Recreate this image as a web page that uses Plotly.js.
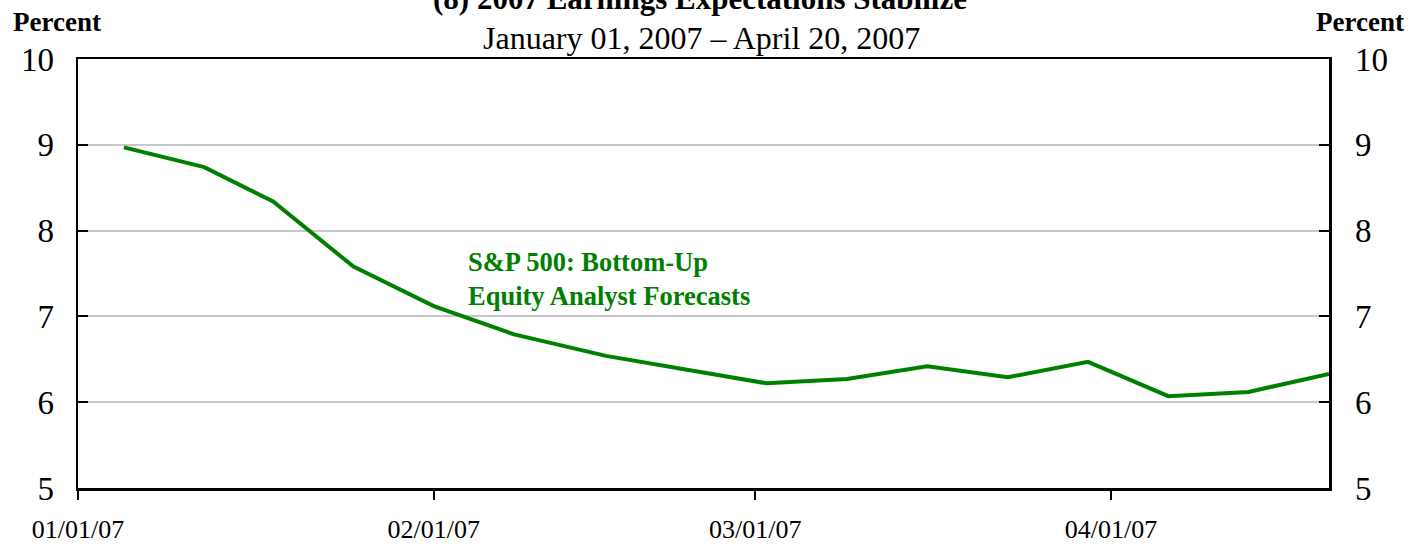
<!DOCTYPE html>
<html>
<head>
<meta charset="utf-8">
<script src="https://cdn.plot.ly/plotly-3.0.1.min.js"></script>
<style>html,body{margin:0;padding:0;background:#fff;}#chart{width:1426px;height:546px;}</style>
</head>
<body>
<div id="chart"></div>
<script>
// Data
const dates = ['2007-01-05','2007-01-12','2007-01-18','2007-01-25','2007-02-01','2007-02-08','2007-02-16',
               '2007-03-02','2007-03-09','2007-03-16','2007-03-23','2007-03-30','2007-04-06','2007-04-13','2007-04-20'];
const earningsGrowth = [8.97, 8.74, 8.34, 7.58, 7.12, 6.79, 6.54, 6.22, 6.27, 6.42, 6.29, 6.47, 6.07, 6.12, 6.33];
const xTickVals = ['2007-01-01','2007-02-01','2007-03-01','2007-04-01'];
const xTickText = ['01/01/07','02/01/07','03/01/07','04/01/07'];
const yTickVals = [5, 6, 7, 8, 9, 10];
const titleText = '(8) 2007 Earnings Expectations Stabilize';
const subtitleText = 'January 01, 2007 \u2013 April 20, 2007';
const seriesLabel = 'S&P 500: Bottom-Up<br>Equity Analyst Forecasts';

const FONT = 'Liberation Serif, Times New Roman, serif';
const GREEN = '#008000';

const traces = [{
  x: dates, y: earningsGrowth, type: 'scatter', mode: 'lines',
  line: {color: GREEN, width: 4}, hoverinfo: 'x+y', showlegend: false
}, {
  x: dates, y: earningsGrowth, yaxis: 'y2', type: 'scatter', mode: 'lines',
  line: {color: 'rgba(0,0,0,0)', width: 0}, hoverinfo: 'skip', showlegend: false
}];

const layout = {
  width: 1426, height: 546,
  margin: {l: 78, r: 97, t: 59, b: 58},
  paper_bgcolor: '#ffffff', plot_bgcolor: '#ffffff',
  font: {family: FONT, color: '#000'},
  showlegend: false,
  xaxis: {
    type: 'date', range: ['2007-01-01','2007-04-20'],
    tickmode: 'array', tickvals: xTickVals, ticktext: xTickText,
    ticks: 'outside', ticklen: 9, tickwidth: 1.5, tickcolor: '#000',
    tickfont: {family: FONT, size: 26, color: '#000'},
    ticklabelstandoff: 7,
    showgrid: false, zeroline: false,
    showline: true, linecolor: '#000', linewidth: 2.5, mirror: true
  },
  yaxis: {
    range: [5, 10], tickmode: 'array', tickvals: yTickVals,
    ticks: 'inside', ticklen: 10, tickwidth: 2, tickcolor: '#000',
    tickfont: {family: FONT, size: 33, color: '#000'},
    ticklabelstandoff: 15,
    showgrid: true, gridcolor: '#c8c8c8', gridwidth: 2,
    zeroline: false, showline: true, linecolor: '#000', linewidth: 2.5
  },
  yaxis2: {
    range: [5, 10], tickmode: 'array', tickvals: yTickVals,
    overlaying: 'y', side: 'right',
    ticks: 'inside', ticklen: 10, tickwidth: 2, tickcolor: '#000',
    tickfont: {family: FONT, size: 33, color: '#000'},
    ticklabelstandoff: 17,
    showgrid: false, zeroline: false, showline: true, linecolor: '#000', linewidth: 2.5
  },
  annotations: [
    {text: '<b>' + titleText + '</b>', xref: 'paper', yref: 'paper', x: 0.497, y: 1 + (59 + 2) / 429,
     xanchor: 'center', yanchor: 'middle', showarrow: false, font: {family: FONT, size: 31, color: '#000'}},
    {text: subtitleText, xref: 'paper', yref: 'paper', x: 0.4985, y: 1 + (59 - 38) / 429,
     xanchor: 'center', yanchor: 'middle', showarrow: false, font: {family: FONT, size: 32, color: '#000'}},
    {text: '<b>Percent</b>', xref: 'paper', yref: 'paper', x: -21 / 1251, y: 1 + (59 - 22) / 429,
     xanchor: 'center', yanchor: 'middle', showarrow: false, font: {family: FONT, size: 27, color: '#000'}},
    {text: '<b>Percent</b>', xref: 'paper', yref: 'paper', x: 1 + 31 / 1251, y: 1 + (59 - 22) / 429,
     xanchor: 'center', yanchor: 'middle', showarrow: false, font: {family: FONT, size: 27, color: '#000'}},
    {text: '<b>' + seriesLabel + '</b>', xref: 'paper', yref: 'paper', x: (466 - 78) / 1251, y: (488 - 279) / 429,
     xanchor: 'left', yanchor: 'middle', align: 'left', showarrow: false, font: {family: FONT, size: 26.5, color: GREEN}}
  ]
};

Plotly.newPlot('chart', traces, layout, {displayModeBar: false, staticPlot: true});
</script>
</body>
</html>
